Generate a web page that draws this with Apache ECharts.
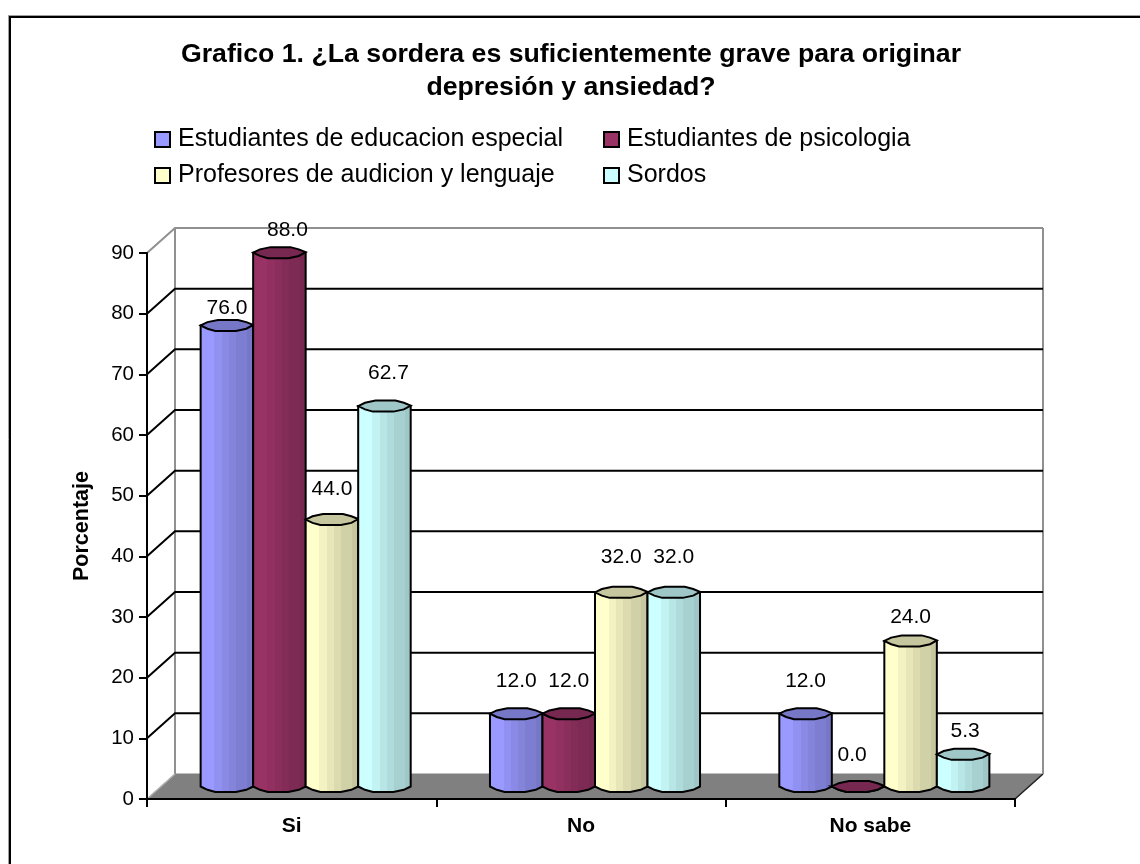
<!DOCTYPE html>
<html lang="es" style="height: 100%">
<head>
  <meta charset="utf-8">
  <title>Grafico 1</title>
</head>
<body style="height: 100%; margin: 0; background: #fff">
  <div id="container" style="width: 1140px; height: 864px"></div>

  <script src="https://fastly.jsdelivr.net/npm/echarts@6/dist/echarts.min.js" type="text/javascript"></script>
  <script>
    var titleText = 'Grafico 1. ¿La sordera es suficientemente grave para originar\ndepresión y ansiedad?';
    var categories = ['Si', 'No', 'No sabe'];
    var seriesNames = [
      'Estudiantes de educacion especial',
      'Estudiantes de psicologia',
      'Profesores de audicion y lenguaje',
      'Sordos'
    ];
    var educacionEspecial = [76.0, 12.0, 12.0];
    var psicologia = [88.0, 12.0, 0.0];
    var audicionLenguaje = [44.0, 32.0, 24.0];
    var sordos = [62.7, 32.0, 5.3];
    var seriesValues = [educacionEspecial, psicologia, audicionLenguaje, sordos];
    var yTicks = [0, 10, 20, 30, 40, 50, 60, 70, 80, 90];

    var seriesColors = ['#9999FF', '#993366', '#FFFFCC', '#CCFFFF'];

    // hand placed labels in the original: [dx, dy] from the top of each cylinder
    var labelNudge = [
      [[0, -17], [0, -32], [0, -32]],
      [[8, -22], [0, -32], [-6, -31]],
      [[0, -30], [0, -35], [0, -24]],
      [[4, -33], [0, -35], [2, -23]]
    ];

    // the floor and the walls are sheared by this much, the cylinders stand half way
    var DEPTH_X = 28, DEPTH_Y = -25;
    var FONT = '"Liberation Sans", Arial, sans-serif';

    // outline of the cylinder cap, x 0..1 across, y -1..1 front to back
    var capShape = [[0, 0], [.13, -.6], [.33, -1], [.71, -1], [.87, -.6], [1, -.1], [.87, .6], [.67, 1], [.28, 1], [.13, .6]];
    var frontEdge = [[.13, .6], [.28, 1], [.67, 1], [.87, .6]];
    var CAP_HEIGHT = 5.5;

    function shade(hex, k) {
      var n = parseInt(hex.slice(1), 16);
      var r = Math.round((n >> 16 & 255) * k);
      var g = Math.round((n >> 8 & 255) * k);
      var b = Math.round((n & 255) * k);
      return 'rgb(' + r + ',' + g + ',' + b + ')';
    }

    // hard stops, the original gradient is banded
    function bandFill(color) {
      var edges = [0, .27, .41, .54, .67, .87, 1];
      var levels = [1, .95, .9, .86, .82, .78];
      var stops = [];
      levels.forEach(function (k, i) {
        stops.push({ offset: edges[i], color: shade(color, k) });
        stops.push({ offset: edges[i + 1], color: shade(color, k) });
      });
      return new echarts.graphic.LinearGradient(0, 0, 1, 0, stops);
    }

    function renderCylinder(seriesIndex) {
      return function (params, api) {
        var catIndex = api.value(0);
        var value = api.value(1);
        var unit = api.size([1, 0])[0];
        var w = unit * 0.1815;
        var base = api.coord([catIndex, 0]);
        var top = api.coord([catIndex, value]);
        var left = base[0] + DEPTH_X / 2 + (seriesIndex - 2) * w;
        var yBase = base[1] + DEPTH_Y / 2;
        var yTop = top[1] + DEPTH_Y / 2;
        var color = seriesColors[seriesIndex];

        var body = [[left, yTop], [left, yBase]];
        frontEdge.forEach(function (p) {
          body.push([left + p[0] * w, yBase + p[1] * CAP_HEIGHT]);
        });
        body.push([left + w, yBase], [left + w, yTop]);

        var cap = capShape.map(function (p) {
          return [left + p[0] * w, yTop + p[1] * CAP_HEIGHT];
        });
        var nudge = labelNudge[seriesIndex][catIndex];

        return {
          type: 'group',
          children: [
            {
              type: 'polygon',
              shape: { points: body },
              style: { fill: bandFill(color), stroke: '#000', lineWidth: 2 }
            },
            {
              type: 'polygon',
              shape: { points: cap },
              style: { fill: shade(color, 0.78), stroke: '#000', lineWidth: 2 }
            },
            {
              type: 'text',
              style: {
                text: value.toFixed(1),
                x: left + w / 2 + nudge[0],
                y: yTop + nudge[1],
                align: 'center',
                verticalAlign: 'middle',
                fill: '#000',
                font: '21px ' + FONT
              }
            }
          ]
        };
      };
    }

    // one item per y tick: back wall line, side wall line, floor on the first one
    function renderWall(params, api) {
      var t = api.value(1);
      var last = yTicks[yTicks.length - 1];
      var unit = api.size([1, 0])[0];
      var a = api.coord([0, t]);
      var front = a[0] - unit / 2;
      var frontRight = front + unit * categories.length;
      var back = frontRight + DEPTH_X;
      var y = a[1];
      var line = [[front, y], [front + DEPTH_X, y + DEPTH_Y], [back, y + DEPTH_Y]];
      var children = [];

      if (t === 0) {
        var floorTop = y + DEPTH_Y;
        var wallTop = api.coord([0, last])[1] + DEPTH_Y;
        children.push({
          type: 'polygon',
          shape: { points: [[front, y], [frontRight, y], [back, floorTop], [front + DEPTH_X, floorTop]] },
          style: { fill: '#808080', stroke: '#808080', lineWidth: 1 }
        });
        children.push({
          type: 'polyline',
          shape: { points: [[frontRight, y], [back, floorTop]] },
          style: { fill: null, stroke: '#222', lineWidth: 1.5 }
        });
        children.push({
          type: 'polyline',
          shape: { points: [[front + DEPTH_X, floorTop], [front + DEPTH_X, wallTop]] },
          style: { fill: null, stroke: '#909090', lineWidth: 2 }
        });
        children.push({
          type: 'polyline',
          shape: { points: [[back, floorTop], [back, wallTop]] },
          style: { fill: null, stroke: '#909090', lineWidth: 2 }
        });
        children.push({
          type: 'polyline',
          shape: { points: line.slice(0, 2) },
          style: { fill: null, stroke: '#b0b0b0', lineWidth: 1.5 }
        });
      } else {
        children.push({
          type: 'polyline',
          shape: { points: line },
          style: { fill: null, stroke: t === last ? '#909090' : '#000', lineWidth: 2 }
        });
      }
      return { type: 'group', children: children };
    }

    var dom = document.getElementById('container');
    var myChart = echarts.init(dom, null, { renderer: 'canvas' });

    var series = [{
      name: 'walls',
      type: 'custom',
      z: 1,
      silent: true,
      renderItem: renderWall,
      encode: { x: 0, y: 1 },
      data: yTicks.map(function (t) { return [0, t]; })
    }];
    seriesNames.forEach(function (name, i) {
      series.push({
        name: name,
        type: 'custom',
        z: 2,
        renderItem: renderCylinder(i),
        encode: { x: 0, y: 1 },
        itemStyle: { color: seriesColors[i] },
        data: seriesValues[i].map(function (v, c) { return [c, v]; })
      });
    });

    // four legends so that the entries line up in two columns like the original
    var legendLeft = [154, 603];
    var legendTop = [127, 163];
    var legends = seriesNames.map(function (name, i) {
      return {
        data: [name],
        left: legendLeft[i % 2],
        top: legendTop[i >> 1],
        icon: 'rect',
        itemWidth: 15,
        itemHeight: 15,
        itemGap: 0,
        padding: 0,
        selectedMode: false,
        itemStyle: { borderColor: '#000', borderWidth: 2 },
        textStyle: { fontFamily: FONT, fontSize: 25, color: '#000', padding: [0, 0, 0, 3] }
      };
    });

    var option = {
      animation: false,
      backgroundColor: '#fff',
      title: {
        text: titleText,
        left: 566,
        top: 33,
        textAlign: 'center',
        textStyle: { fontFamily: FONT, fontWeight: 'bold', fontSize: 26.7, lineHeight: 33, color: '#000' }
      },
      legend: legends,
      grid: { left: 147, top: 253, width: 868, height: 546 },
      xAxis: {
        type: 'category',
        data: categories,
        z: 3,
        axisLine: { lineStyle: { color: '#000', width: 2 } },
        axisTick: { show: true, length: 8, lineStyle: { color: '#000', width: 2 } },
        axisLabel: { fontFamily: FONT, fontWeight: 'bold', fontSize: 21, color: '#000', margin: 17 },
        splitLine: { show: false }
      },
      yAxis: {
        type: 'value',
        min: 0,
        max: 90,
        interval: 10,
        name: 'Porcentaje',
        nameLocation: 'middle',
        nameGap: 54,
        nameTextStyle: { fontFamily: FONT, fontWeight: 'bold', fontSize: 21.5, color: '#000' },
        z: 3,
        axisLine: { show: true, lineStyle: { color: '#000', width: 2 } },
        axisTick: { show: true, length: 8, lineStyle: { color: '#000', width: 2 } },
        axisLabel: { fontFamily: FONT, fontSize: 20.5, color: '#000', margin: 13 },
        splitLine: { show: false }
      },
      series: series,
      // frame of the pasted chart, it runs off the page on the right and at the bottom
      graphic: [
        { type: 'line', silent: true, shape: { x1: 8, y1: 15.5, x2: 1140, y2: 15.5 }, style: { stroke: '#a0a0a0', lineWidth: 1 } },
        { type: 'line', silent: true, shape: { x1: 8.5, y1: 15, x2: 8.5, y2: 864 }, style: { stroke: '#a0a0a0', lineWidth: 1 } },
        { type: 'line', silent: true, shape: { x1: 9, y1: 17, x2: 1140, y2: 17 }, style: { stroke: '#000', lineWidth: 2 } },
        { type: 'line', silent: true, shape: { x1: 10, y1: 16, x2: 10, y2: 864 }, style: { stroke: '#000', lineWidth: 2 } }
      ]
    };

    myChart.setOption(option);
    window.addEventListener('resize', myChart.resize);
  </script>
</body>
</html>
